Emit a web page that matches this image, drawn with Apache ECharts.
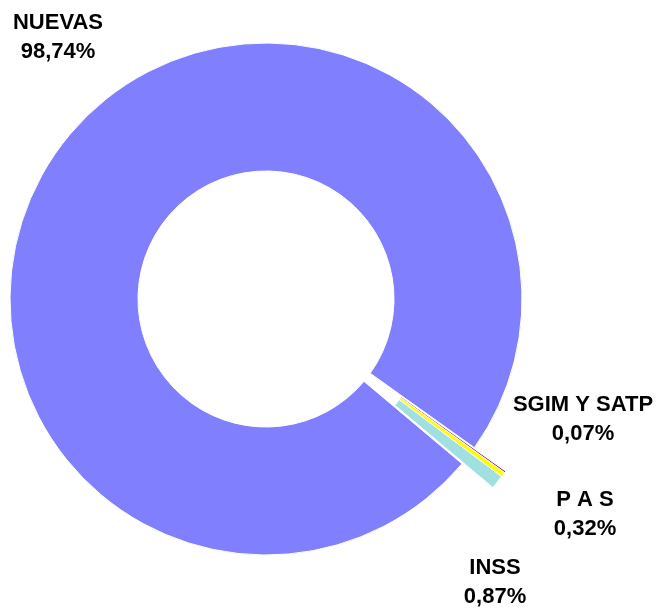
<!DOCTYPE html>
<html lang="es">
<head>
    <meta charset="UTF-8">
    <title>Distribución</title>
    <script src="https://cdn.jsdelivr.net/npm/echarts@6/dist/echarts.min.js"></script>
    <style>
        body { margin: 0; padding: 0; background: #fff; }
        #main { width: 659px; height: 610px; }
    </style>
</head>
<body>
<div id="main"></div>
<script>
    // data, in drawing order (clockwise from the gap)
    const names = ['SGIM Y SATP', 'P A S', 'INSS', 'NUEVAS'];
    const values = [0.07, 0.32, 0.87, 98.74];
    const colors = ['#800080', '#FFFF00', '#A0E0E0', '#8080FF'];
    const exploded = [true, true, true, false];

    // where each label sits (center of text)
    const labelPos = [[583, 419], [585, 514], [495, 582], [58, 37]];

    const center = [266, 299];
    const startAngle = -35.5;
    const pullOut = 39;

    // push the small slices out along the middle of their arc
    const total = values.reduce((a, b) => a + b, 0);
    const smallSum = values.filter((v, i) => exploded[i]).reduce((a, b) => a + b, 0);
    const midAngle = (startAngle - smallSum / total * 360 / 2) * Math.PI / 180;
    const center2 = [center[0] + pullOut * Math.cos(midAngle), center[1] - pullOut * Math.sin(midAngle)];

    const font = {
        color: '#000',
        fontFamily: "'Liberation Sans Narrow', 'Arial Narrow', 'Liberation Sans', sans-serif",
        fontWeight: 'bold',
        fontSize: 22,
        lineHeight: 29
    };

    function ring(c, showIdx) {
        return {
            type: 'pie',
            center: c,
            radius: [128, 256],
            startAngle: startAngle,
            clockwise: true,
            avoidLabelOverlap: false,
            silent: true,
            label: Object.assign({
                show: true,
                position: 'outside',
                formatter: p => p.name + '\n' + p.value.toFixed(2).replace('.', ',') + '%'
            }, font),
            labelLine: { show: false },
            labelLayout: p => ({
                x: labelPos[p.dataIndex][0],
                y: labelPos[p.dataIndex][1],
                align: 'center',
                verticalAlign: 'middle'
            }),
            emphasis: { disabled: true },
            data: names.map((n, i) => {
                const mine = showIdx(i);
                return {
                    name: n,
                    value: values[i],
                    label: { show: mine },
                    itemStyle: mine
                        ? { color: colors[i], borderColor: '#fff', borderWidth: i === 0 ? 0 : 1 }
                        : { color: 'rgba(0,0,0,0)', borderWidth: 0 }
                };
            })
        };
    }

    const chart = echarts.init(document.getElementById('main'));

    chart.setOption({
        backgroundColor: '#fff',
        animation: false,
        series: [
            ring(center, i => !exploded[i]),
            ring(center2, i => exploded[i])
        ]
    });
</script>
</body>
</html>
